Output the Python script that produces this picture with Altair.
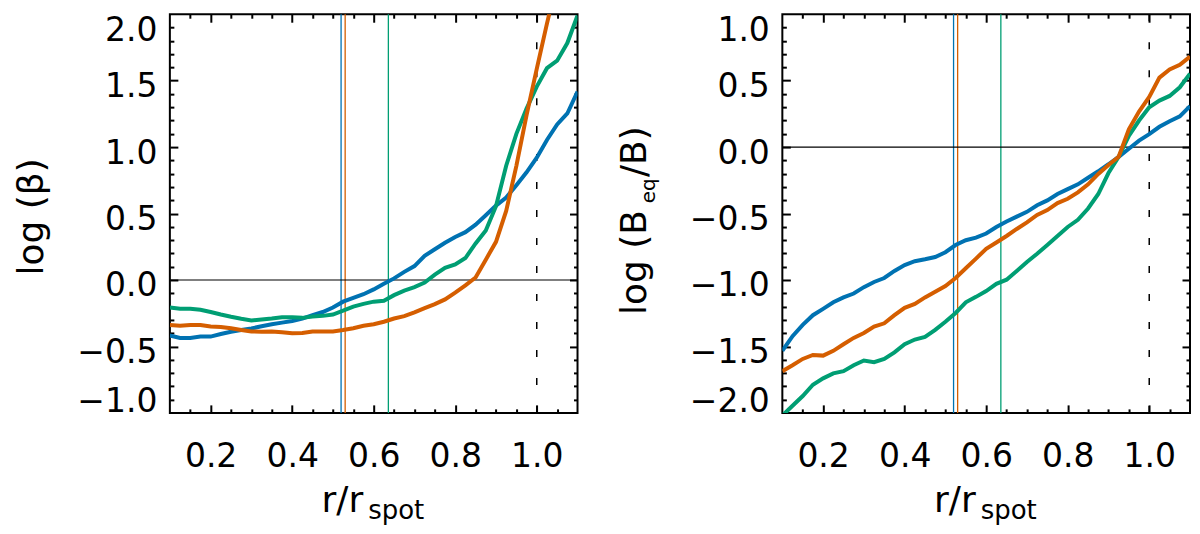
import altair as alt
import pandas as pd

# radius in units of the spot radius
r = [0.100, 0.125, 0.150, 0.175, 0.200, 0.225, 0.250, 0.275, 0.300, 0.325, 0.350,
     0.375, 0.400, 0.425, 0.450, 0.475, 0.500, 0.525, 0.550, 0.575, 0.600, 0.625,
     0.650, 0.675, 0.700, 0.725, 0.750, 0.775, 0.800, 0.825, 0.850, 0.875, 0.900,
     0.925, 0.950, 0.975, 1.000, 1.025, 1.050, 1.075, 1.100]

# log(beta)
beta_blue = [-0.418, -0.436, -0.436, -0.426, -0.426, -0.406, -0.389, -0.377, -0.365, -0.348, -0.333,
             -0.321, -0.309, -0.290, -0.265, -0.241, -0.207, -0.163, -0.134, -0.107, -0.071, -0.029,
             0.012, 0.061, 0.105, 0.182, 0.231, 0.280, 0.324, 0.360, 0.416, 0.487, 0.560,
             0.620, 0.713, 0.810, 0.920, 1.054, 1.170, 1.253, 1.418]
beta_orange = [-0.338, -0.345, -0.338, -0.338, -0.350, -0.353, -0.363, -0.377, -0.387, -0.389, -0.387,
               -0.394, -0.401, -0.399, -0.387, -0.387, -0.387, -0.377, -0.363, -0.345, -0.333, -0.314,
               -0.290, -0.272, -0.243, -0.212, -0.182, -0.146, -0.095, -0.041, 0.019, 0.153, 0.287,
               0.520, 0.859, 1.240, 1.589, 1.929, 2.250, None, None]
beta_green = [-0.207, -0.217, -0.217, -0.224, -0.241, -0.260, -0.277, -0.292, -0.304, -0.297, -0.290,
              -0.280, -0.280, -0.285, -0.275, -0.270, -0.260, -0.231, -0.200, -0.180, -0.163, -0.156,
              -0.114, -0.080, -0.054, -0.020, 0.040, 0.092, 0.117, 0.165, 0.275, 0.372, 0.555,
              0.860, 1.100, 1.290, 1.455, 1.594, 1.650, 1.783, 1.990]

# log(B_eq / B)
ratio_blue = [-1.533, -1.423, -1.338, -1.265, -1.217, -1.168, -1.131, -1.102, -1.054, -1.015, -0.985,
              -0.932, -0.888, -0.859, -0.844, -0.827, -0.791, -0.737, -0.701, -0.681, -0.650, -0.601,
              -0.560, -0.523, -0.487, -0.438, -0.401, -0.353, -0.316, -0.280, -0.231, -0.182, -0.129,
              -0.073, -0.012, 0.049, 0.097, 0.153, 0.195, 0.231, 0.309]
ratio_orange = [-1.686, -1.642, -1.594, -1.564, -1.569, -1.533, -1.484, -1.436, -1.399, -1.350, -1.326,
                -1.265, -1.209, -1.180, -1.131, -1.088, -1.046, -0.985, -0.912, -0.839, -0.766, -0.718,
                -0.669, -0.616, -0.567, -0.511, -0.474, -0.421, -0.389, -0.341, -0.280, -0.202, -0.134,
                -0.073, 0.134, 0.268, 0.377, 0.523, 0.584, 0.620, 0.681]
ratio_green = [-2.020, -1.946, -1.873, -1.788, -1.740, -1.703, -1.686, -1.642, -1.606, -1.618, -1.594,
               -1.545, -1.484, -1.448, -1.428, -1.375, -1.314, -1.248, -1.168, -1.127, -1.083, -1.029,
               -0.998, -0.932, -0.864, -0.803, -0.737, -0.669, -0.601, -0.547, -0.462, -0.353, -0.195,
               -0.073, 0.085, 0.200, 0.300, 0.350, 0.385, 0.450, 0.552]

series = ["blue", "orange", "green"]
colours = ["#0072B2", "#D55E00", "#009E73"]
boundary_r = [0.520, 0.530, 0.636]   # thin vertical lines, one per series
spot_edge = [1.0]
zero = [0.0]

x_labels = [0.2, 0.4, 0.6, 0.8, 1.0]
x_ticks = [0.15, 0.20, 0.25, 0.30, 0.35, 0.40, 0.45, 0.50, 0.55, 0.60, 0.65, 0.70,
           0.75, 0.80, 0.85, 0.90, 0.95, 1.00, 1.05]
beta_labels = [-1.0, -0.5, 0.0, 0.5, 1.0, 1.5, 2.0]
beta_ticks = [-0.9, -0.8, -0.7, -0.6, -0.5, -0.4, -0.3, -0.2, -0.1, 0.0, 0.1, 0.2, 0.3, 0.4,
              0.5, 0.6, 0.7, 0.8, 0.9, 1.0, 1.1, 1.2, 1.3, 1.4, 1.5, 1.6, 1.7, 1.8, 1.9]
ratio_labels = [-2.0, -1.5, -1.0, -0.5, 0.0, 0.5, 1.0]
ratio_ticks = [-1.9, -1.8, -1.7, -1.6, -1.5, -1.4, -1.3, -1.2, -1.1, -1.0, -0.9, -0.8, -0.7, -0.6,
               -0.5, -0.4, -0.3, -0.2, -0.1, 0.0, 0.1, 0.2, 0.3, 0.4, 0.5, 0.6, 0.7, 0.8, 0.9]

W, H = 408, 399
FONT = "DejaVu Sans"


def tick_len(step):
    # IDL style: long ticks at labelled values, short ones in between
    test = f"abs(datum.value / {step} - round(datum.value / {step})) < 0.001"
    return {"condition": {"test": test, "value": 8}, "value": 4}


def tick_axis(orient, values, step, offset, **kw):
    # axis put on the opposite side so the ticks point into the frame
    return alt.Axis(orient=orient, offset=offset, values=values, labels=False, domain=False,
                    grid=False, tickSize=tick_len(step), tickWidth=2, tickColor="black", **kw)


def panel(vals, ydom, ylabels, yticks, ytitles, title_x):
    df = pd.DataFrame({"r": r * 3, "v": vals[0] + vals[1] + vals[2],
                       "series": [s for s in series for _ in r]})
    xs = alt.Scale(domain=[0.1, 1.1], nice=False, zero=False)
    ys = alt.Scale(domain=ydom, nice=False, zero=False)
    top = ydom[1]

    x_lab = alt.Axis(orient="bottom", values=x_labels, format=".1f", ticks=False, tickSize=0,
                     domain=False, grid=False, labelPadding=28, labelFlush=False,
                     title="r/r", titleX=193, titleY=99, titleAlign="right",
                     titleBaseline="alphabetic", titleAngle=0)
    y_lab = alt.Axis(orient="left", values=ylabels, format=".1f", ticks=False, tickSize=0,
                     domain=False, grid=False, labelPadding=13, labelFlush=True,
                     labelOffset={"condition": {"test": f"datum.value > {top - 0.01}", "value": 0}, "value": 6},
                     title=ytitles[0]["text"], titleX=title_x, titleY=ytitles[0]["y"],
                     titleAlign=ytitles[0]["align"], titleBaseline="alphabetic", titleAngle=-90)

    x_bot = tick_axis("top", x_ticks, 0.2, -H, title="spot", titleX=198, titleY=106,
                      titleAlign="left", titleBaseline="alphabetic", titleAngle=0, titleFontSize=26)
    x_top = tick_axis("bottom", x_ticks, 0.2, -H, title=None)
    if len(ytitles) > 1:
        y_left = tick_axis("right", yticks, 0.5, -W, title=ytitles[1]["text"], titleX=title_x + 9,
                           titleY=ytitles[1]["y"], titleAlign="left", titleBaseline="alphabetic",
                           titleAngle=-90, titleFontSize=20)
        y_right = tick_axis("left", yticks, 0.5, -W, title=ytitles[2]["text"], titleX=title_x - W,
                            titleY=ytitles[2]["y"], titleAlign="left", titleBaseline="alphabetic",
                            titleAngle=-90)
    else:
        y_left = tick_axis("right", yticks, 0.5, -W, title=None)
        y_right = tick_axis("left", yticks, 0.5, -W, title=None)

    def curve(name, colour, xa, ya):
        return alt.Chart(df).transform_filter(alt.datum.series == name).mark_line(
            color=colour, strokeWidth=4, clip=True).encode(
            x=alt.X("r:Q", scale=xs, axis=xa), y=alt.Y("v:Q", scale=ys, axis=ya))

    vlines = alt.Chart(pd.DataFrame({"r": boundary_r, "series": series})).mark_rule(strokeWidth=1.3).encode(
        x=alt.X("r:Q", axis=None),
        color=alt.Color("series:N", scale=alt.Scale(domain=series, range=colours), legend=None))
    zline = alt.Chart(pd.DataFrame({"v": zero})).mark_rule(color="black", strokeWidth=1.2).encode(
        y=alt.Y("v:Q", axis=None))
    edge = alt.Chart(pd.DataFrame({"r": spot_edge})).mark_rule(
        color="black", strokeWidth=1.5, strokeDash=[7, 21]).encode(x=alt.X("r:Q", axis=None))

    return alt.layer(
        vlines, zline, edge,
        curve("blue", colours[0], x_lab, y_lab),
        curve("green", colours[2], x_top, y_right),
        curve("orange", colours[1], x_bot, y_left),
    ).resolve_axis(x="independent", y="independent").properties(width=W, height=H)


left = panel([beta_blue, beta_orange, beta_green], [-1.0, 2.0], beta_labels, beta_ticks,
             [{"text": "log (β)", "y": 202.4, "align": "center"}], -127)
right = panel([ratio_blue, ratio_orange, ratio_green], [-2.0, 1.0], ratio_labels, ratio_ticks,
              [{"text": "log (B", "y": 195.6, "align": "right"},
               {"text": "eq", "y": 188.8},
               {"text": "/B)", "y": 162.5}], -137)

chart = alt.hconcat(left, right, spacing=205, bounds="flush").configure_view(
    stroke="black", strokeWidth=2
).configure_axis(
    labelFont=FONT, labelFontSize=33, labelColor="black",
    titleFont=FONT, titleFontSize=36, titleFontWeight="normal", titleColor="black"
).properties(padding={"left": 5, "top": 4, "right": 0, "bottom": 1}, background="white")

chart.save("out.html", embed_options={"renderer": "svg", "actions": False})
